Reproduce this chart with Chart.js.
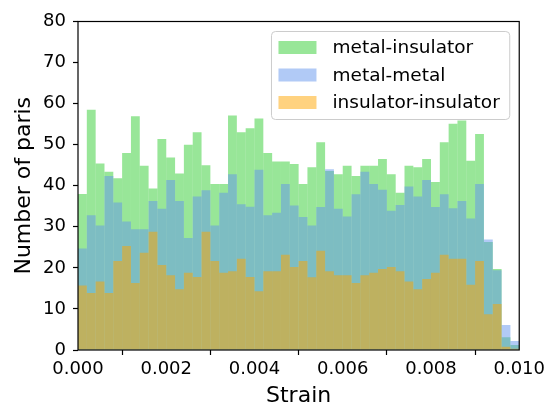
<!DOCTYPE html>
<html>
<head>
<meta charset="utf-8">
<script src="https://cdn.jsdelivr.net/npm/chart.js@4.4.0/dist/chart.umd.min.js"></script>
<style>
  html, body { margin: 0; padding: 0; background: #fff; }
  #chart { display: block; }
</style>
</head>
<body>
<canvas id="chart" width="549" height="410"></canvas>
<script>
// histogram counts per bin (50 bins over 0 .. 0.010)
const metalInsulator = [
  38, 58.5, 45.4, 43.4, 41.8, 48, 56.9, 44.9, 39.3, 51.4,
  46.9, 43, 50, 53, 45, 40.4, 40.4, 57.1, 53, 54,
  56.4, 48, 45.9, 45.9, 45.3, 40.4, 44.5, 50.6, 43.6, 42.8,
  44.9, 42.4, 44.9, 44.9, 46.5, 42.8, 38.3, 44.9, 44.5, 46.5,
  40.9, 50.6, 55.1, 55.9, 46.1, 52.6, 26.3, 19.7, 3.1, 1.2
];
const metalMetal = [
  24.7, 32.8, 30.3, 42.4, 35.9, 31.3, 29.4, 29.4, 36.3, 34.4,
  41.4, 36.3, 27.3, 37.4, 38.9, 30.3, 38.3, 42.8, 35.5, 34.9,
  43.9, 32.8, 33.4, 40.4, 35.2, 32.4, 30.3, 34.8, 44.0, 34.4,
  32.5, 37.9, 43.4, 40.4, 39.0, 33.9, 35.3, 39.8, 37.4, 41.4,
  34.8, 37.9, 34.5, 36.3, 32.0, 40.4, 26.9, 19.4, 6.1, 2.2
];
const insulatorInsulator = [
  15.7, 13.9, 16.7, 13.9, 21.7, 25.3, 16.3, 23.7, 28.8, 20.7,
  18.2, 14.8, 18.8, 17.8, 28.8, 21.7, 18.8, 19.2, 22.2, 17.8,
  14.3, 19.2, 19.2, 23.2, 20.2, 21.7, 17.7, 24.2, 19.2, 18.2,
  18.2, 16.3, 18.2, 18.8, 19.7, 20.2, 19.2, 16.7, 14.8, 17.3,
  18.8, 23.2, 22.2, 22.2, 15.9, 21.7, 8.7, 11.2, 0.8, 0.3
];
const seriesLabels = ['metal-insulator', 'metal-metal', 'insulator-insulator'];
const xTickLabels = ['0.000', '0.002', '0.004', '0.006', '0.008', '0.010'];
const yTickLabels = ['0', '10', '20', '30', '40', '50', '60', '70', '80'];

const strainMax = 0.010;
const binWidth = strainMax / metalInsulator.length;
const toPoints = arr => arr.map((v, i) => ({ x: (i + 0.5) * binWidth, y: v }));

const FONT = 'DejaVu Sans';

// frame around the axes + matplotlib-like legend inside the plot
const frameLegend = {
  id: 'frameLegend',
  afterDatasetsDraw(chart) {
    const { ctx, chartArea: a } = chart;
    ctx.save();
    ctx.strokeStyle = '#000';
    ctx.lineWidth = 1.2;
    ctx.strokeRect(a.left, a.top, a.right - a.left, a.bottom - a.top);

    ctx.font = `18.5px "${FONT}"`;
    const ds = chart.data.datasets;
    const textW = Math.max(...ds.map(d => ctx.measureText(d.label).width));
    const w = 7 + 38 + 16 + textW + 10;
    const h = 88;
    const x0 = a.right - 9.5 - w;
    const y0 = a.top + 10;
    ctx.beginPath();
    ctx.roundRect(x0, y0, w, h, 4);
    ctx.fillStyle = 'rgba(255,255,255,0.8)';
    ctx.fill();
    ctx.strokeStyle = '#cccccc';
    ctx.lineWidth = 1;
    ctx.stroke();

    ds.forEach((d, i) => {
      const cy = y0 + 16 + i * 27.5;
      ctx.fillStyle = d.backgroundColor;
      ctx.fillRect(x0 + 7, cy - 6.5, 38, 13);
      ctx.fillStyle = '#000';
      ctx.textBaseline = 'middle';
      ctx.textAlign = 'left';
      ctx.fillText(d.label, x0 + 61, cy + 1);
    });
    ctx.restore();
  }
};

new Chart(document.getElementById('chart'), {
  type: 'bar',
  data: {
    datasets: [
      { label: seriesLabels[0], data: toPoints(metalInsulator), backgroundColor: 'rgba(50,205,50,0.5)', order: 3 },
      { label: seriesLabels[1], data: toPoints(metalMetal), backgroundColor: 'rgba(100,149,237,0.5)', order: 2 },
      { label: seriesLabels[2], data: toPoints(insulatorInsulator), backgroundColor: 'rgba(255,165,0,0.5)', order: 1 }
    ]
  },
  options: {
    responsive: false,
    animation: false,
    devicePixelRatio: 1,
    grouped: false,
    barPercentage: 1,
    categoryPercentage: 1,
    borderWidth: 0,
    inflateAmount: 0,
    layout: { padding: { top: 21.5, right: 28.6, left: 0, bottom: 0 } },
    plugins: { legend: { display: false }, tooltip: { enabled: false } },
    scales: {
      x: {
        type: 'linear',
        min: 0,
        max: strainMax,
        offset: false,
        afterFit: s => { s.height = 60; },
        afterBuildTicks: s => { s.ticks = xTickLabels.map(t => ({ value: parseFloat(t) })); },
        ticks: {
          color: '#000',
          font: { family: FONT, size: 18 },
          padding: 4,
          maxRotation: 0,
          callback: (v, i) => xTickLabels[i]
        },
        grid: { drawOnChartArea: false, drawTicks: true, tickLength: 5, tickColor: '#000', tickWidth: 1.2 },
        border: { display: false },
        title: { display: true, text: 'Strain', color: '#000', font: { family: FONT, size: 22 }, padding: { top: 0, bottom: 1 } }
      },
      y: {
        min: 0,
        max: 80,
        afterFit: s => { s.width = 78; },
        afterBuildTicks: s => { s.ticks = yTickLabels.map(t => ({ value: Number(t) })); },
        ticks: {
          color: '#000',
          font: { family: FONT, size: 18 },
          padding: 7,
          callback: (v, i) => yTickLabels[i]
        },
        grid: { drawOnChartArea: false, drawTicks: true, tickLength: 5, tickColor: '#000', tickWidth: 1.2 },
        border: { display: false },
        title: { display: true, text: 'Number of paris', color: '#000', font: { family: FONT, size: 22 }, padding: { top: 11, bottom: 0 } }
      }
    }
  },
  plugins: [frameLegend]
});
</script>
</body>
</html>
